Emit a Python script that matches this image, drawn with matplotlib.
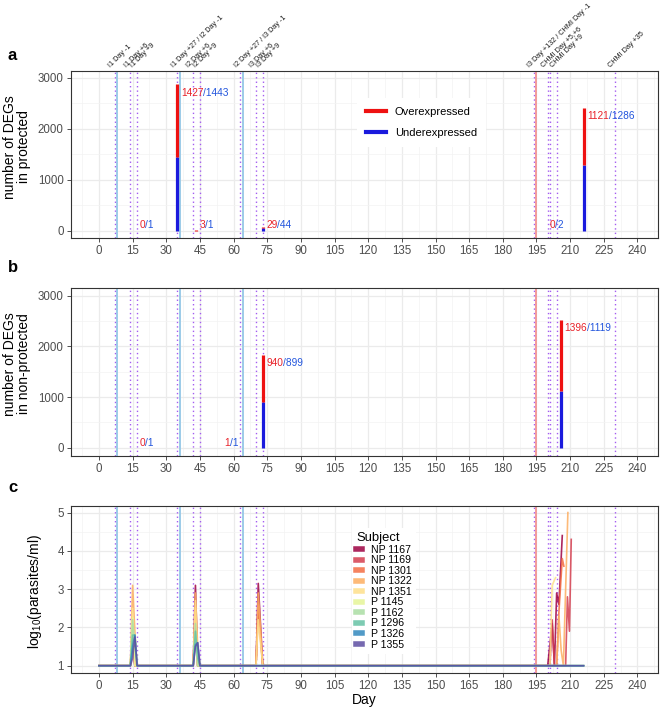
import matplotlib
matplotlib.use("Agg")
import matplotlib.pyplot as plt
from matplotlib.lines import Line2D
import matplotlib.transforms as mtransforms

plt.rcParams["font.family"] = ["Liberation Sans", "DejaVu Sans"]
plt.rcParams["mathtext.default"] = "regular"

# event lines (day)
dotted_days = [7, 14, 17, 35, 42, 45, 63, 70, 73, 194, 200, 201, 204, 230]
immun_days = [8, 36, 64]
chmi_days = [195]
event_days = [7, 14, 17, 35, 42, 45, 63, 70, 73, 194, 200, 204, 230]
event_labels = ["I1 Day -1", "I1 Day +6", "I1 Day +9", "I1 Day +27 / I2 Day -1",
                "I2 Day +6", "I2 Day +9", "I2 Day +27 / I3 Day -1", "I3 Day +6",
                "I3 Day +9", "I3 Day +132 / CHMI Day -1", "CHMI Day +5,+6",
                "CHMI Day +9", "CHMI Day +35"]

# DEGs, protected
prot_day = [16.5, 35, 43.2, 73, 199.4, 216]
prot_over = [0, 1427, 3, 29, 0, 1121]
prot_under = [1, 1443, 1, 44, 2, 1286]

# DEGs, non-protected
nonprot_day = [16.5, 54.5, 73, 206]
nonprot_over = [0, 1, 940, 1396]
nonprot_under = [1, 1, 899, 1119]

# parasitaemia (log10 parasites/ml)
subjects = ["NP 1167", "NP 1169", "NP 1301", "NP 1322", "NP 1351",
            "P 1145", "P 1162", "P 1296", "P 1326", "P 1355"]
subj_colors = ["#9E0142", "#D53E4F", "#F46D43", "#FDAE61", "#FEE08B",
               "#E6F598", "#ABDDA4", "#66C2A5", "#3288BD", "#5E4FA2"]
para_days = [
    [0, 14, 15, 16, 42, 43, 44, 70, 71, 73, 200, 202, 203, 204, 205, 206.5],
    [0, 14, 15, 16, 42, 43, 44, 70, 71, 73, 201, 202, 203, 208, 208.8, 209.7, 210.5],
    [0, 14, 15, 16, 42, 43, 44, 70, 71, 73, 204, 205, 206.5, 207.2],
    [0, 14, 15, 16, 17, 42, 43, 44, 45, 70, 71, 72, 73, 204, 205, 206, 207, 209],
    [0, 14, 15, 16, 42, 43, 44, 70, 71, 73, 201, 202, 203.5],
    [0, 14, 15, 16, 42, 43, 44, 216],
    [0, 14, 15, 16, 17, 42, 43, 44, 216],
    [0, 14, 15, 16, 17, 42, 43, 44, 45, 216],
    [0, 14, 15, 16, 17, 42, 43, 44, 45, 216],
    [0, 14, 15, 16, 17, 42, 43, 44, 45, 216],
]
para_vals = [
    [1, 1, 1.6, 1, 1, 3.1, 1, 1, 3.15, 1, 1, 2.1, 1, 2.9, 2.6, 4.4],
    [1, 1, 1.8, 1, 1, 2.2, 1, 1, 2.6, 1, 1, 2.2, 1, 1, 2.8, 1.9, 4.3],
    [1, 1, 2.0, 1, 1, 2.5, 1, 1, 2.4, 1, 1, 2.4, 3.8, 3.6],
    [1, 1, 3.1, 1.9, 1, 1, 2.9, 1.5, 1, 1, 2.9, 2.0, 1, 1, 2.3, 1.4, 1, 5.0],
    [1, 1, 2.5, 1, 1, 2.7, 1, 1, 2.2, 1, 1, 3.1, 3.3],
    [1, 1, 2.25, 1, 1, 1.8, 1, 1],
    [1, 1, 2.2, 1.5, 1, 1, 2.1, 1, 1],
    [1, 1, 1.8, 1.8, 1, 1, 1.9, 1.2, 1, 1],
    [1, 1, 1.5, 1.8, 1, 1, 1.55, 1.6, 1, 1],
    [1, 1, 1.2, 1.75, 1, 1, 1.5, 1.6, 1, 1],
]

W, H = 660, 708
fig = plt.figure(figsize=(W / 100, H / 100), dpi=100)


def px_axes(top, bottom, left=70.7, right=658.3):
    return fig.add_axes([left / W, 1 - bottom / H, (right - left) / W, (bottom - top) / H])


ax_a = px_axes(70.7, 238.3)
ax_b = px_axes(288.3, 455.7)
ax_c = px_axes(505.7, 672.7)

RED, BLUE = "#EE1111", "#1A1ADD"
TRED, TBLUE = "#E8222A", "#2255DD"


def style(ax, ylim, yticks, yminor):
    ax.set_xlim(-12.6, 249.3)
    ax.set_ylim(*ylim)
    ax.set_xticks(range(0, 241, 15))
    ax.set_xticks([-7.5 + 15 * i for i in range(18)], minor=True)
    ax.set_yticks(yticks)
    ax.set_yticks(yminor, minor=True)
    ax.grid(True, which="major", color="#EBEBEB", lw=0.9, zorder=0)
    ax.grid(True, which="minor", color="#F3F3F3", lw=0.5, zorder=0)
    ax.set_axisbelow(True)
    for s in ax.spines.values():
        s.set_color("#333333")
        s.set_linewidth(0.8)
    ax.tick_params(which="major", length=3, width=0.6, color="#333333",
                   labelsize=8.3, labelcolor="#4D4D4D", pad=2)
    ax.tick_params(which="minor", length=0)


def events(ax):
    for d in dotted_days:
        ax.axvline(d, color="#A45CF0", lw=1.0, ls=(0, (1, 2.2)), zorder=1)
    for d in immun_days:
        ax.axvline(d, color="#9CCBE8", lw=1.4, zorder=1)
    for d in chmi_days:
        ax.axvline(d, color="#F29A9A", lw=1.4, zorder=1)


def deg_bars(ax, days, over, under):
    for d, o, u in zip(days, over, under):
        ax.vlines(d, 0, u, color=BLUE, lw=2.3, zorder=3)
        ax.vlines(d, u, u + o, color=RED, lw=2.3, zorder=3)
        y = max(o + u - 60, 200)
        t = ax.annotate(str(o), (d + 1.5, y), color=TRED, fontsize=7.3,
                        ha="left", va="top", zorder=4)
        ax.annotate("/" + str(u), (1, 0), xycoords=t, color=TBLUE, fontsize=7.3,
                    ha="left", va="bottom", zorder=4)


for ax in (ax_a, ax_b):
    style(ax, (-150, 3140) if ax is ax_a else (-155, 3145), [0, 1000, 2000, 3000], [500, 1500, 2500])
    events(ax)
style(ax_c, (0.817, 5.18), [1, 2, 3, 4, 5], [1.5, 2.5, 3.5, 4.5])
events(ax_c)

deg_bars(ax_a, prot_day, prot_over, prot_under)
deg_bars(ax_b, nonprot_day, nonprot_over, nonprot_under)

# legend for panel a
h = [Line2D([], [], color=RED, lw=3), Line2D([], [], color=BLUE, lw=3)]
leg = ax_a.legend(h, ["Overexpressed", "Underexpressed"], loc="center",
                  bbox_to_anchor=(0.597, 0.689), fontsize=8, frameon=True,
                  facecolor="white", edgecolor="none", framealpha=1,
                  handlelength=1.8, handletextpad=0.8, labelspacing=1.0,
                  borderpad=0.8, fancybox=False)

# event labels on top
trans = mtransforms.blended_transform_factory(ax_a.transData, ax_a.transAxes)
for d, lab in zip(event_days, event_labels):
    ax_a.annotate(lab, (d, 1), xycoords=trans, xytext=(-2, 1), textcoords="offset points",
                  rotation=45, ha="left", va="bottom", rotation_mode="anchor",
                  fontsize=5.2, color="#1A1A1A", annotation_clip=False)

# parasitaemia
for name, col, dd, vv in zip(subjects, subj_colors, para_days, para_vals):
    ax_c.plot(dd, vv, color=col, lw=1.2, alpha=0.85, zorder=3, label=name)
hc = [Line2D([], [], color=c, lw=4, alpha=0.85) for c in subj_colors]
leg_c = ax_c.legend(hc, subjects, title="Subject", loc="center left",
                    bbox_to_anchor=(0.47, 0.49), fontsize=7.6, title_fontsize=9.4,
                    frameon=True, facecolor="white", edgecolor="none", framealpha=1,
                    handlelength=0.5, handletextpad=0.9, labelspacing=0.05,
                    borderpad=0.4, alignment="left", fancybox=False)

# axis titles
fig.text(17 / W, 1 - 147 / H, "number of DEGs\nin protected", rotation=90,
         ha="center", va="center", fontsize=10, linespacing=1.0)
fig.text(17 / W, 1 - 364 / H, "number of DEGs\nin non-protected", rotation=90,
         ha="center", va="center", fontsize=10, linespacing=1.0)
fig.text(35 / W, 1 - 591 / H, r"log$_{10}$(parasites/ml)", rotation=90,
         ha="center", va="center", fontsize=10)
fig.text(364 / W, 1 - 700 / H, "Day", ha="center", va="center", fontsize=10)

for lab, y in (("a", 55), ("b", 268), ("c", 488)):
    fig.text(8 / W, 1 - y / H, lab, fontsize=12, fontweight="bold", ha="left", va="center")

fig.savefig("out.png", dpi=100)
